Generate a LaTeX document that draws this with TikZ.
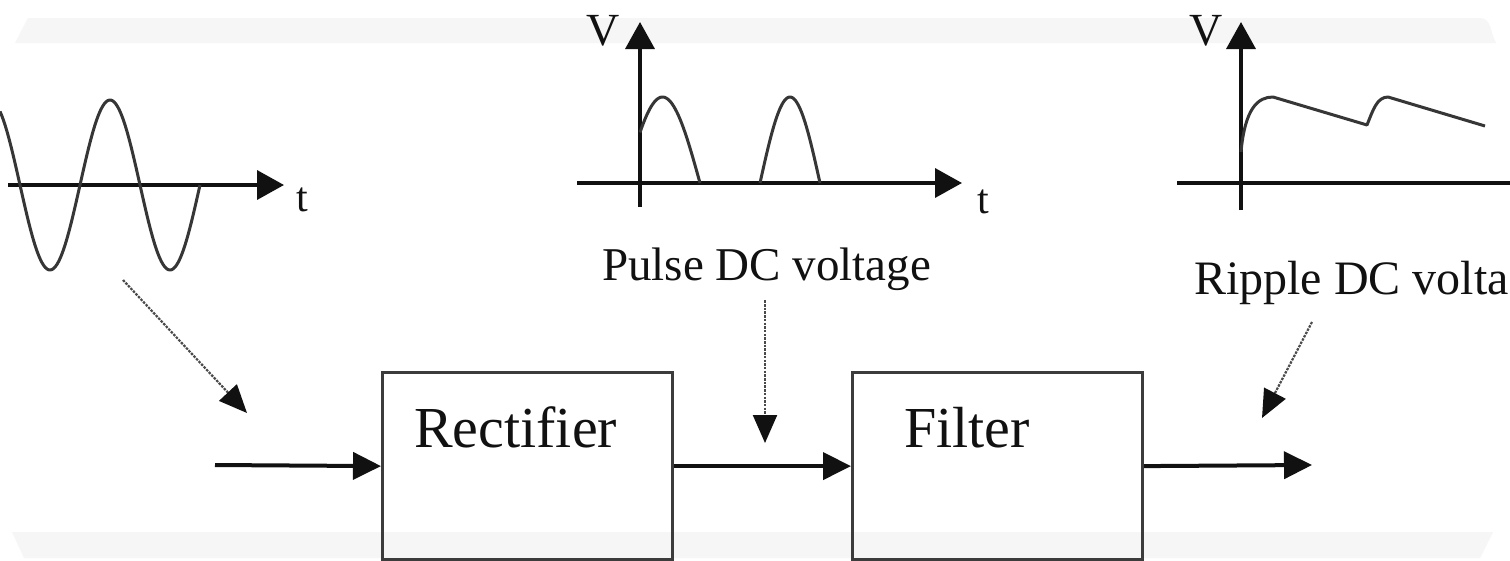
\documentclass[tikz,border=0pt]{standalone}
\usepackage{fontspec}
\setmainfont{Liberation Serif}
\usetikzlibrary{positioning,arrows.meta,calc}
\definecolor{ink}{HTML}{111111}
\definecolor{wave}{HTML}{363636}
\definecolor{edge}{HTML}{3C3C3C}
\definecolor{dots}{HTML}{4A4A4A}
\definecolor{band}{HTML}{F6F6F6}
\tikzset{
  flow/.style={-{Triangle[length=28pt,width=27pt]}, line width=4pt, color=ink},
  axarr/.style={-{Triangle[length=27pt,width=29pt]}, line width=3.6pt, color=ink},
  axbare/.style={line width=3.6pt, color=ink},
  sig/.style={line width=3pt, color=wave, line join=round},
  blk/.style={draw=edge, line width=3.2pt, minimum width=290pt, minimum height=187pt,
    anchor=north west, inner sep=0pt},
  blklab/.style={font=\fontsize{58}{58}\selectfont, text=ink, anchor=base west, inner sep=0pt},
  caption/.style={font=\fontsize{#1}{#1}\selectfont, text=ink, anchor=base west, inner sep=2pt},
  caption/.default=47,
  axlab/.style={font=\fontsize{#1}{#1}\selectfont, text=ink, inner sep=0pt},
  note/.style={-{Triangle[length=28pt,width=24pt,color=ink]}, line width=2.2pt,
    dash pattern=on 2.5pt off 1.2pt, color=dots},
}

\begin{document}
\begin{tikzpicture}[x=1pt,y=-1pt]
  \useasboundingbox (0,0) rectangle (1510,560);
  \clip (0,0) rectangle (1510,560);
  \fill[white] (0,0) rectangle (1510,560);
  \fill[band] (15,43) -- (28,18) -- (1480,18) to[out=0,in=120] (1496,43) -- cycle;
  \fill[band] (12,532) -- (1493,532) -- (1480,558) -- (24,558) -- cycle;

  % input sine
  \draw[axarr] (8,185) -- (284,185);
  \draw[sig] plot[domain=0:200,samples=120,smooth] (\x,{185+85*sin(3*(\x-20))});
  \node[axlab=42] (t1) at (302,200) {t};

  % pulse DC
  \draw[axbare] (640,207) -- (640,60);
  \draw[axarr] (640,80) -- (640,22);
  \draw[axarr] (577,183) -- (962,183);
  \draw[sig] plot[domain=640:700,samples=40,smooth] (\x,{183-86*sin(36+2.4*(\x-640))});
  \draw[sig] plot[domain=760:820,samples=40,smooth] (\x,{183-86*sin(3*(\x-760))});
  \node[axlab=46] (v2) at (603,31) {V};
  \node[axlab=42] (t2) at (983,202) {t};
  \node[caption] (pulse) at (600,280) {Pulse DC voltage};

  % ripple DC
  \draw[axarr] (1241,210) -- (1241,22);
  \draw[axbare] (1177,183) -- (1520,183);
  \draw[sig] (1241,152) .. controls (1245,108) and (1258,97) .. (1273,97)
    -- (1367,125) .. controls (1373,110) and (1377,97) .. (1388,97) -- (1485,126);
  \node[axlab=46] (v3) at (1206,31) {V};
  \node[caption=48] (ripple) at (1192,294) {Ripple DC volta};

  % blocks
  \node[blk] (rect) at (381,371) {};
  \node[blk] (filt) at (851,371) {};
  \node[blklab] (rectlbl) at (414,447) {Rectifier};
  \node[blklab] (filtlbl) at (904,447) {Filter};

  \coordinate (in) at (215,465);
  \coordinate (out) at (1312,465);
  \draw[flow] (in) -- (rect.west);
  \draw[flow] (rect.east) -- (filt.west);
  \draw[flow] (filt.east) -- (out);

  % pointers
  \coordinate (sinsrc) at (123,280);
  \coordinate (sintip) at (247,413);
  \coordinate (ptip) at (765,443);
  \coordinate (rsrc) at (1312,322);
  \coordinate (rtip) at (1262,418);
  \draw[note] (sinsrc) -- (sintip);
  \draw[note,shorten <=8pt] (pulse.south -| ptip) -- (ptip);
  \draw[note] (rsrc) -- (rtip);
\end{tikzpicture}
\end{document}
